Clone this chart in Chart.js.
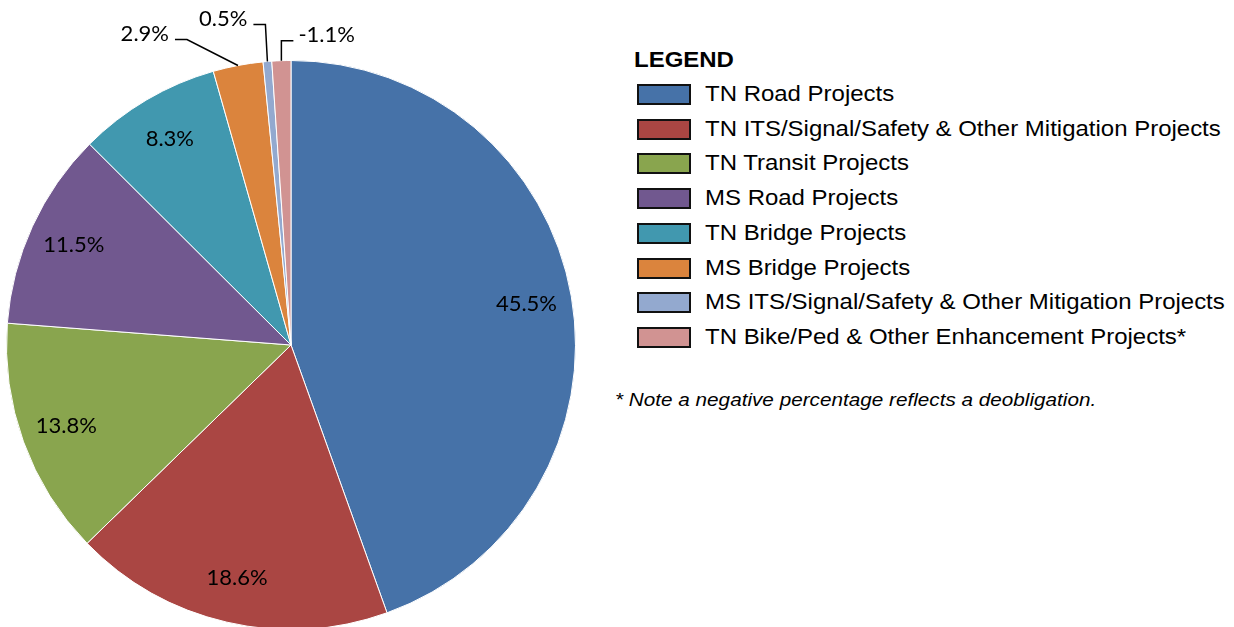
<!DOCTYPE html>
<html>
<head>
<meta charset="utf-8">
<script src="https://cdn.jsdelivr.net/npm/chart.js@4.4.0/dist/chart.umd.min.js"></script>
<style>
    body { margin: 0; background: #fff; }
    #wrap { position: relative; width: 1234px; height: 627px; overflow: hidden; background: #fff; }
    #pieChart { position: absolute; left: 0; top: 0; }
    #legend { position: absolute; left: 634px; top: 0; font-family: "Liberation Sans", Arial, sans-serif; color: #000; }
    #legend .title { position: absolute; left: 0; top: 47px; font-weight: bold; font-size: 22px; white-space: nowrap; transform: scaleX(1.09); transform-origin: left center; }
    #legend .item { position: absolute; left: 3px; height: 24px; white-space: nowrap; font-size: 22px; line-height: 24px; }
    #legend .box { position: absolute; left: 0; top: 2px; width: 50px; height: 17px; border: 2px solid #111; }
    #legend .text { position: absolute; left: 68px; top: 0; transform: scaleX(1.09); transform-origin: left center; }
    #note { position: absolute; left: 615px; top: 389px; font-family: "Liberation Sans", Arial, sans-serif; font-style: italic; font-size: 19px; white-space: nowrap; transform: scaleX(1.09); transform-origin: left center; }
</style>
</head>
<body>
<div id="wrap">
    <canvas id="pieChart" width="582" height="690"></canvas>
    <div id="legend"></div>
    <div id="note">* Note a negative percentage reflects a deobligation.</div>
</div>
<script>
// ==================== DATA ====================
const categories = [
    'TN Road Projects',
    'TN ITS/Signal/Safety & Other Mitigation Projects',
    'TN Transit Projects',
    'MS Road Projects',
    'TN Bridge Projects',
    'MS Bridge Projects',
    'MS ITS/Signal/Safety & Other Mitigation Projects',
    'TN Bike/Ped & Other Enhancement Projects*'
];
const percentages = [45.5, 18.6, 13.8, 11.5, 8.3, 2.9, 0.5, -1.1];
const sliceColors = ['#4672A8', '#AA4643', '#89A54E', '#71588F', '#4198AF', '#DB843D', '#93A9CF', '#D19392'];

// label placement: inside, or outside with a leader line (offsets from the arc edge)
const labelPlacement = [
    { mode: 'in' },
    { mode: 'in' },
    { mode: 'in' },
    { mode: 'in' },
    { mode: 'in' },
    { mode: 'out', line: [[-51, -26], [-63, -26]], text: [-69, -32], align: 'right' },
    { mode: 'out', line: [[-2, -37], [-14, -37]], text: [-20, -43], align: 'right' },
    { mode: 'out', line: [[0, -20], [12, -20]], text: [17, -26], align: 'left' }
];

// ==================== LEGEND ====================
function buildLegend() {
    const el = document.getElementById('legend');
    let html = '<div class="title">LEGEND</div>';
    categories.forEach((name, i) => {
        const top = 82 + i * 34.7;
        html += `<div class="item" style="top:${top}px;">
            <div class="box" style="background:${sliceColors[i]};"></div>
            <div class="text">${name.replace(/&/g, '&amp;')}</div>
        </div>`;
    });
    el.innerHTML = html;
}

// ==================== LABELS ====================
const pieLabels = {
    id: 'pieLabels',
    afterDatasetsDraw(chart) {
        const ctx = chart.ctx;
        const meta = chart.getDatasetMeta(0);
        ctx.save();
        ctx.font = '22px Lato, "Open Sans", sans-serif';
        ctx.fillStyle = '#000';
        ctx.strokeStyle = '#000';
        ctx.lineWidth = 1.5;
        ctx.textBaseline = 'middle';
        meta.data.forEach((arc, i) => {
            const p = arc.getProps(['x', 'y', 'startAngle', 'endAngle', 'outerRadius'], true);
            const mid = (p.startAngle + p.endAngle) / 2;
            const txt = percentages[i].toFixed(1) + '%';
            const place = labelPlacement[i];
            if (place.mode === 'in') {
                const r = p.outerRadius * 0.84;
                ctx.textAlign = 'center';
                ctx.fillText(txt, p.x + Math.cos(mid) * r, p.y + Math.sin(mid) * r);
            } else {
                const ax = p.x + Math.cos(mid) * p.outerRadius;
                const ay = p.y + Math.sin(mid) * p.outerRadius;
                ctx.beginPath();
                ctx.moveTo(ax, ay);
                place.line.forEach(pt => ctx.lineTo(ax + pt[0], ay + pt[1]));
                ctx.stroke();
                ctx.textAlign = place.align;
                ctx.fillText(txt, ax + place.text[0], ay + place.text[1]);
            }
        });
        ctx.restore();
    }
};

// ==================== CHART ====================
buildLegend();

new Chart(document.getElementById('pieChart').getContext('2d'), {
    type: 'pie',
    data: {
        labels: categories,
        datasets: [{
            data: percentages.map(v => Math.abs(v)),
            backgroundColor: sliceColors,
            borderColor: '#ffffff',
            borderWidth: 1
        }]
    },
    options: {
        responsive: false,
        animation: false,
        devicePixelRatio: 1,
        layout: { padding: 6 },
        events: [],
        plugins: {
            legend: { display: false },
            tooltip: { enabled: false }
        }
    },
    plugins: [pieLabels]
});
</script>
</body>
</html>
